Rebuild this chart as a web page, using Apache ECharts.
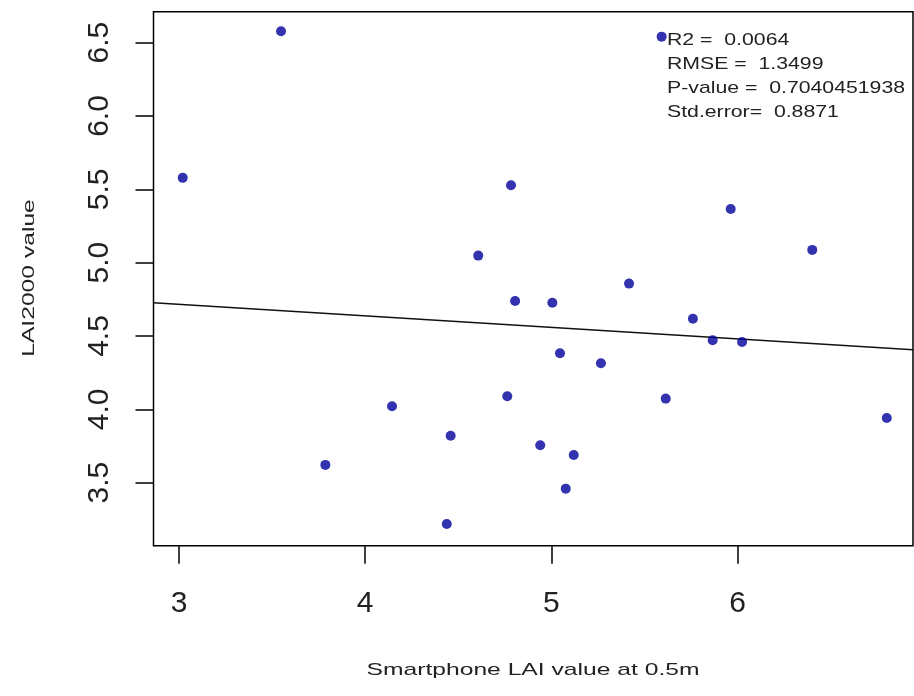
<!DOCTYPE html>
<html>
<head>
<meta charset="utf-8">
<title>LAI2000 vs Smartphone LAI</title>
<script src="https://cdn.jsdelivr.net/npm/echarts@6/dist/echarts.min.js"></script>
<style>
  html, body { margin: 0; padding: 0; background: #ffffff; }
  #chart { width: 914px; height: 696px; }
</style>
</head>
<body>
<div id="chart"></div>
<script>
// Smartphone LAI (x) and LAI2000 (y) measurements
const smartphoneLai = [3.548, 3.020, 4.783, 4.607, 4.805, 5.005, 5.592, 5.963, 6.401, 5.417,
                       5.046, 5.266, 4.763, 4.144, 4.459, 4.940, 5.120, 5.077, 3.786, 4.438,
                       5.760, 5.866, 6.024, 5.614, 6.801];
const lai2000Values = [6.578, 5.578, 5.528, 5.048, 4.739, 4.727, 6.541, 5.366, 5.087, 4.857,
                       4.382, 4.314, 4.089, 4.021, 3.820, 3.755, 3.689, 3.459, 3.621, 3.218,
                       4.618, 4.471, 4.459, 4.073, 3.941];

// Tick positions
const xTicks = [3, 4, 5, 6];
const yTicks = [3.5, 4.0, 4.5, 5.0, 5.5, 6.0, 6.5];

// Linear fit y = a + b x
const fitIntercept = 4.953;
const fitSlope = -0.0789;

// Fit statistics
const statsLines = [
  'R2 =  0.0064',
  'RMSE =  1.3499',
  'P-value =  0.7040451938',
  'Std.error=  0.8871'
];

const X_MIN = 2.863, X_MAX = 6.942;
const Y_MIN = 3.070, Y_MAX = 6.711;

const FONT = "'Liberation Sans', Arial, sans-serif";
const TEXT_COLOR = '#222222';

const points = smartphoneLai.map((x, i) => [x, lai2000Values[i]]);
const fitLine = [X_MIN, X_MAX].map(x => [x, fitIntercept + fitSlope * x]);

const chart = echarts.init(document.getElementById('chart'), null, { renderer: 'canvas' });

chart.setOption({
  backgroundColor: '#ffffff',
  animation: false,
  grid: {
    left: 153.5, right: 1, top: 11.7, bottom: 150.3,
    show: true,
    borderColor: '#000000',
    borderWidth: 1.5,
    backgroundColor: 'transparent'
  },
  xAxis: {
    type: 'value',
    min: X_MIN, max: X_MAX,
    splitLine: { show: false },
    axisLine: { show: false },
    axisTick: {
      show: true, inside: false, length: 18,
      customValues: xTicks,
      lineStyle: { color: '#000000', width: 1.5 }
    },
    axisLabel: {
      customValues: xTicks,
      margin: 43,
      color: TEXT_COLOR,
      fontFamily: FONT,
      fontSize: 30,
      formatter: v => String(v)
    }
  },
  yAxis: {
    type: 'value',
    min: Y_MIN, max: Y_MAX,
    splitLine: { show: false },
    axisLine: { show: false },
    axisTick: {
      show: true, inside: false, length: 18,
      customValues: yTicks,
      lineStyle: { color: '#000000', width: 1.5 }
    },
    axisLabel: {
      customValues: yTicks,
      rotate: 90,
      margin: 39,
      color: TEXT_COLOR,
      fontFamily: FONT,
      fontSize: 30,
      formatter: v => v.toFixed(1)
    }
  },
  graphic: [
    {
      type: 'text',
      x: 533, y: 670,
      scaleX: 1.45,
      style: {
        text: 'Smartphone LAI value at 0.5m',
        font: '17px ' + FONT,
        fill: TEXT_COLOR,
        align: 'center',
        verticalAlign: 'middle'
      }
    },
    {
      type: 'text',
      x: 29, y: 278,
      rotation: Math.PI / 2,
      scaleX: 1.45,
      style: {
        text: 'LAI2000 value',
        font: '17px ' + FONT,
        fill: TEXT_COLOR,
        align: 'center',
        verticalAlign: 'middle'
      }
    },
    ...statsLines.map((line, i) => ({
      type: 'text',
      x: 667, y: 40.5 + i * 24,
      scaleX: 1.25,
      style: {
        text: line,
        font: '17px ' + FONT,
        fill: TEXT_COLOR,
        align: 'left',
        verticalAlign: 'middle'
      }
    }))
  ],
  series: [
    {
      name: 'fit',
      type: 'line',
      data: fitLine,
      symbol: 'none',
      silent: true,
      lineStyle: { color: '#111111', width: 1.5 },
      z: 2
    },
    {
      name: 'LAI',
      type: 'scatter',
      data: points,
      symbol: 'circle',
      symbolSize: 10,
      itemStyle: { color: '#00009c' },
      z: 3
    }
  ]
});
</script>
</body>
</html>
